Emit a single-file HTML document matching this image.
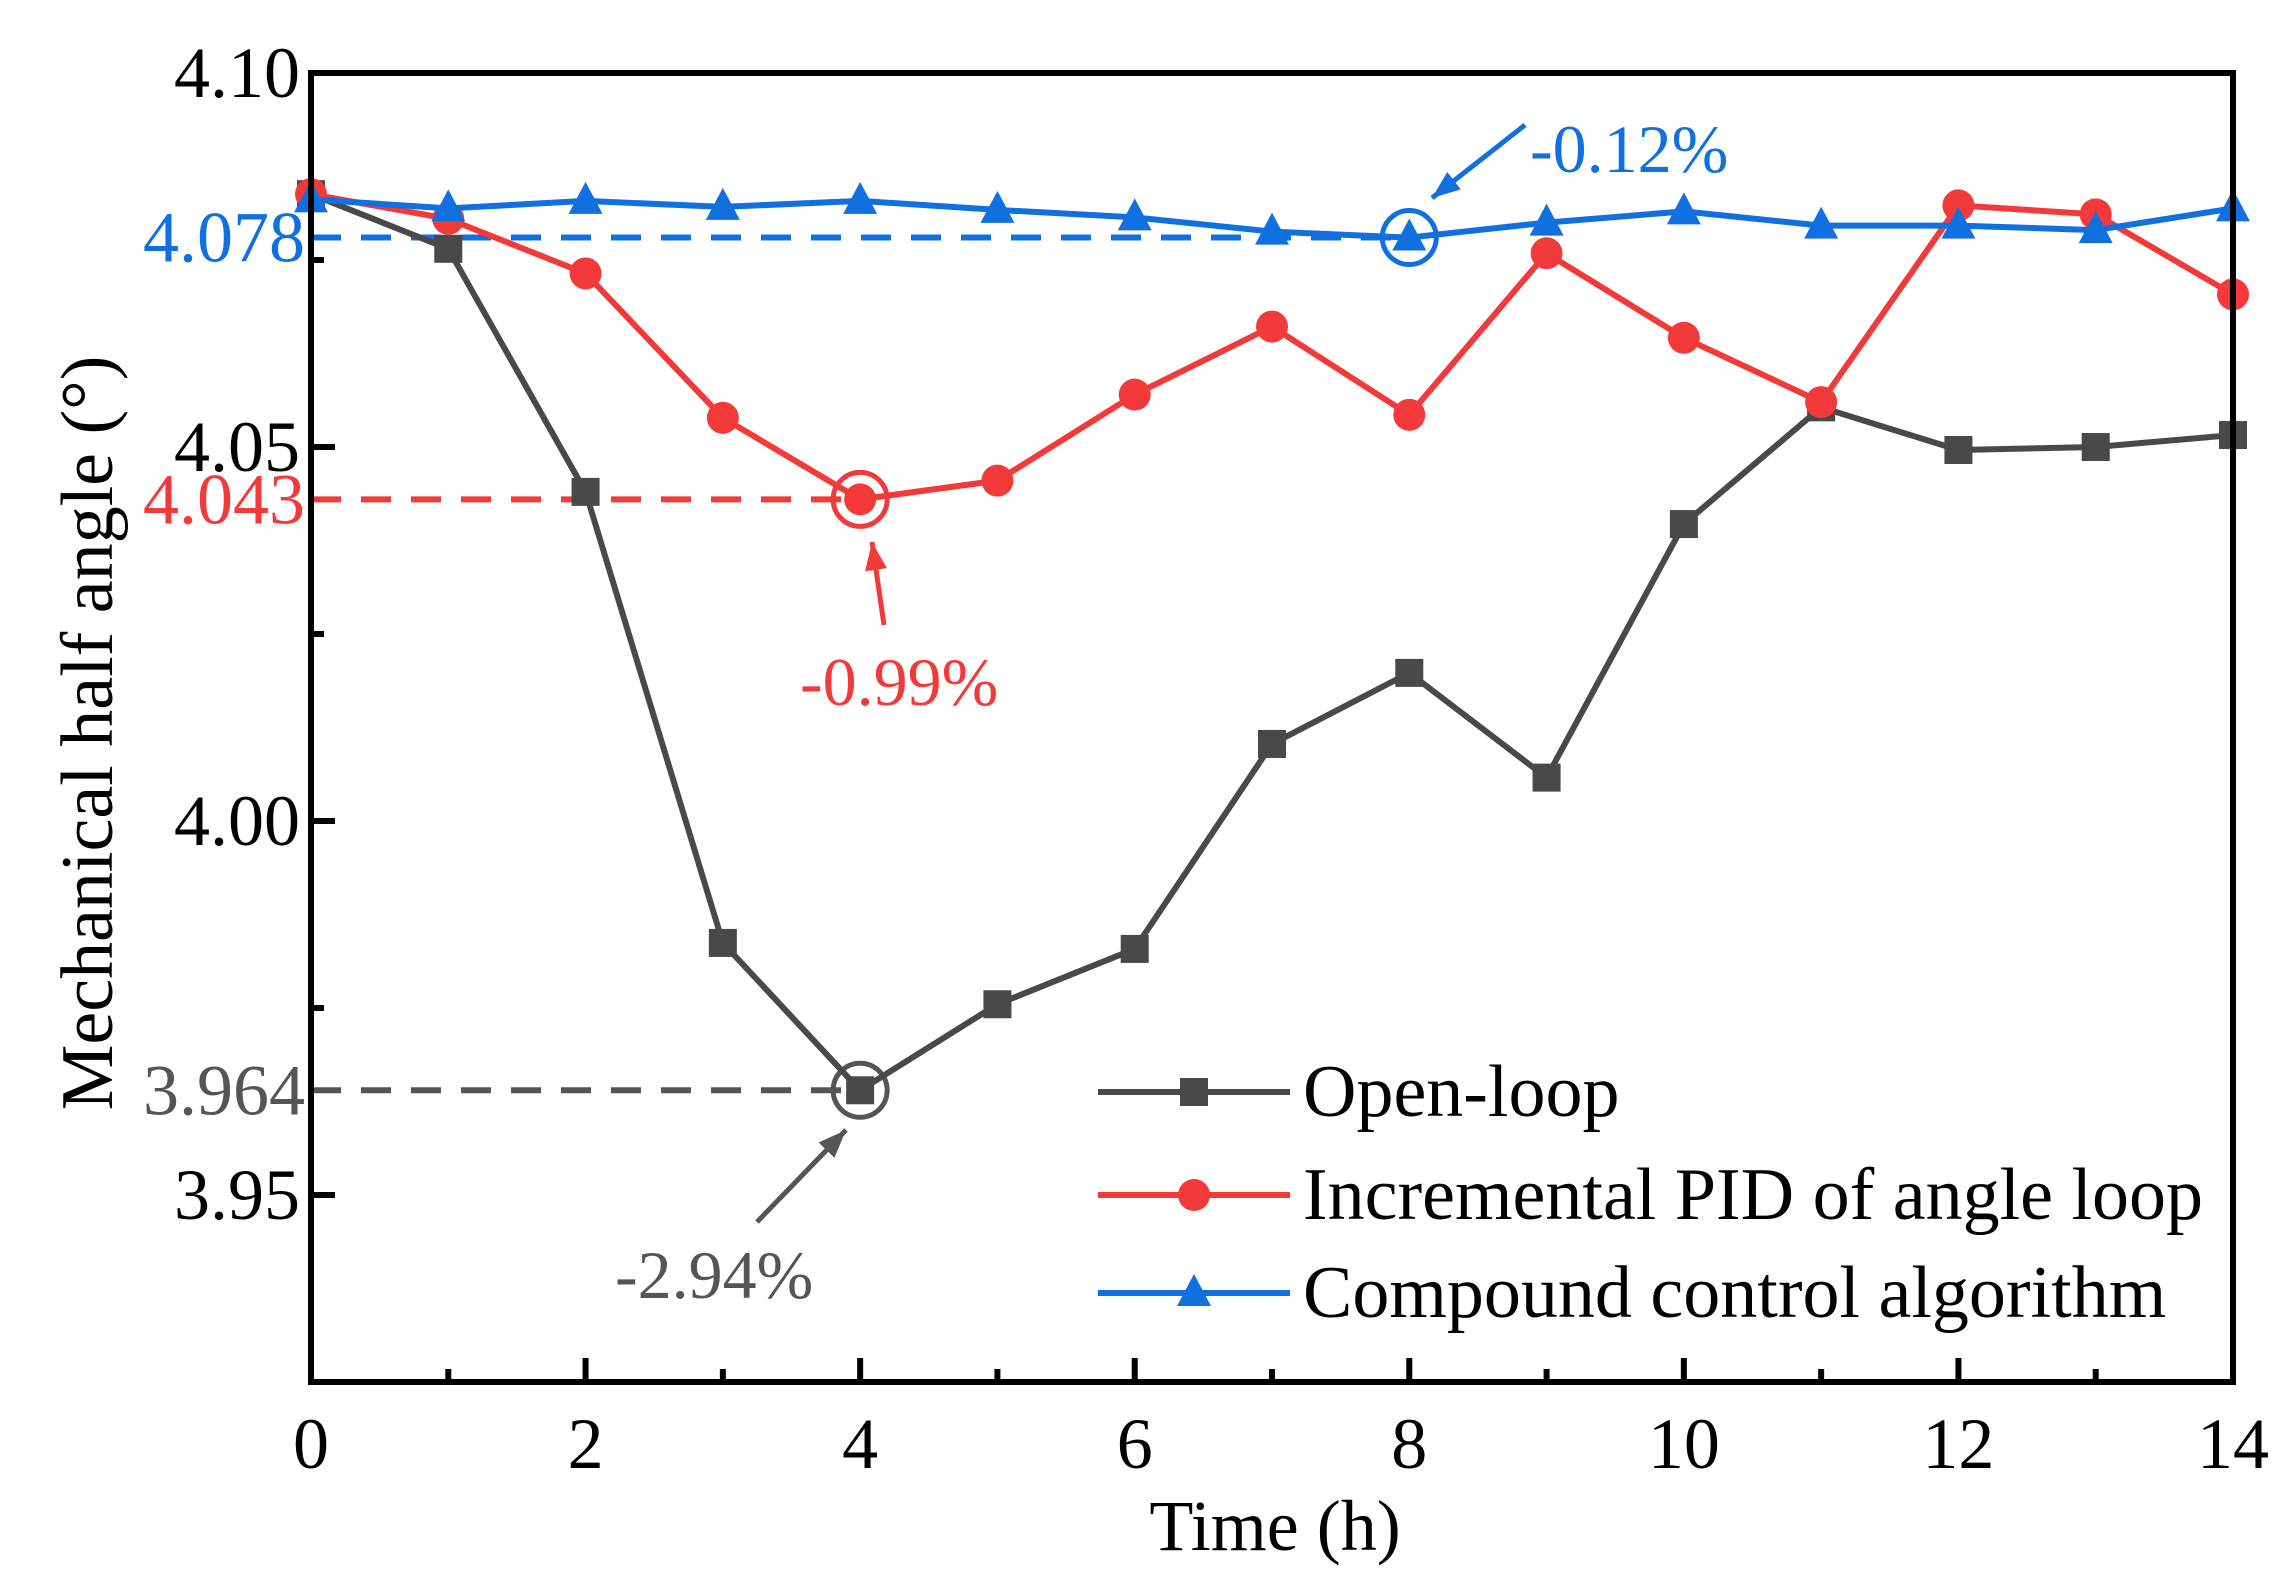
<!DOCTYPE html>
<html><head><meta charset="utf-8"><style>
html,body{margin:0;padding:0;background:#fff;}
svg{display:block;font-family:"Liberation Serif",serif;}
</style></head><body>
<svg id="chart" width="2287" height="1592" viewBox="0 0 2287 1592"></svg>
<script>
const hours=[0,1,2,3,4,5,6,7,8,9,10,11,12,13,14];
const openLoop=[4.0838,4.0765,4.044,3.9837,3.964,3.9755,3.9829,4.0103,4.0198,4.0058,4.0397,4.0553,4.0496,4.05,4.0516];
const pidLoop=[4.0838,4.0805,4.0732,4.0539,4.043,4.0455,4.057,4.0661,4.0543,4.0759,4.0646,4.056,4.0823,4.0811,4.0704];
const compound=[4.0831,4.0819,4.0829,4.0821,4.0829,4.0817,4.0807,4.0788,4.078,4.08,4.0815,4.0796,4.0796,4.079,4.0819];
const xTicks=[0,2,4,6,8,10,12,14];
const yTicks=[3.95,4.00,4.05,4.10];
const yTickLabels=["3.95","4.00","4.05","4.10"];

const L=311,R=2233,T=73,B=1382,XMIN=0,XMAX=14,YMIN=3.925,YMAX=4.10;
const sx=v=>L+(v-XMIN)/(XMAX-XMIN)*(R-L);
const sy=v=>B-(v-YMIN)/(YMAX-YMIN)*(B-T);
const svg=document.getElementById('chart');
const NS='http://www.w3.org/2000/svg';
function mk(tag,attrs,parent){const e=document.createElementNS(NS,tag);for(const k in attrs)e.setAttribute(k,attrs[k]);(parent||svg).appendChild(e);return e;}
function txt(s,x,y,size,fill,anchor,parent){const e=mk('text',{x:x,y:y,'font-size':size,fill:fill,'text-anchor':anchor||'middle'},parent);e.textContent=s;return e;}

const ticks=mk('g',{});


for(let h=0;h<=14;h++){const major=h%2===0;const len=major?24:13;
  mk('line',{x1:sx(h),x2:sx(h),y1:B,y2:B-len,stroke:'#000','stroke-width':6},ticks);}
for(let k=0;k<=7;k++){const v=3.925+k*0.025;const major=k%2===1;
  mk('line',{x1:L,x2:L+(major?24:13),y1:sy(v),y2:sy(v),stroke:'#000','stroke-width':6},ticks);}
const xl=mk('g',{});


xTicks.forEach(t=>txt(String(t),sx(t),1468,72,'#000','middle',xl));
const yl=mk('g',{});


yTicks.forEach((t,i)=>txt(yTickLabels[i],300,sy(t)+24,72,'#000','end',yl));

const refs=[[8,4.078,'#1170e0','4.078'],[4,4.043,'#f23a3a','4.043'],[4,3.964,'#555','3.964']];
refs.forEach(r=>{const g=mk('g',{});
  
  
  mk('line',{x1:L,x2:sx(r[0]),y1:sy(r[1]),y2:sy(r[1]),stroke:r[2],'stroke-width':6,'stroke-dasharray':'30 20'},g);
  txt(r[3],305,sy(r[1])+24,72,r[2],'end',g);
  mk('circle',{cx:sx(r[0]),cy:sy(r[1]),r:27,fill:'none',stroke:r[2],'stroke-width':5},g);
});

const series=[[openLoop,'#494949','square','open-loop'],[pidLoop,'#f23a3a','circle','incremental-pid'],[compound,'#1170e0','triangle','compound-control']];
function marker(kind,x,y,c,g){
  if(kind==='square')mk('rect',{x:x-14,y:y-14,width:28,height:28,fill:c},g);
  else if(kind==='circle')mk('circle',{cx:x,cy:y,r:16,fill:c},g);
  else mk('polygon',{points:`${x},${y-19} ${x-17},${y+13} ${x+17},${y+13}`,fill:c},g);
}
series.forEach(s=>{const g=mk('g',{});
  
  
  mk('polyline',{points:hours.map((h,i)=>sx(h)+','+sy(s[0][i])).join(' '),fill:'none',stroke:s[1],'stroke-width':6,'stroke-linejoin':'round'},g);
  hours.forEach((h,i)=>marker(s[2],sx(h),sy(s[0][i]),s[1],g));
});

const fr=mk('rect',{x:L,y:T,width:R-L,height:B-T,fill:'none',stroke:'#000','stroke-width':6});



function arrow(x1,y1,x2,y2,c,name,label,lx,ly){const g=mk('g',{});
  
  
  mk('line',{x1:x1,y1:y1,x2:x2,y2:y2,stroke:c,'stroke-width':5},g);
  const a=Math.atan2(y2-y1,x2-x1),l=28,w=11;
  const bx=x2-l*Math.cos(a),by=y2-l*Math.sin(a);
  mk('polygon',{points:`${x2},${y2} ${bx-w*Math.sin(a)},${by+w*Math.cos(a)} ${bx+w*Math.sin(a)},${by-w*Math.cos(a)}`,fill:c},g);
  txt(label,lx,ly,68,c,'start',g);}
arrow(1525,125,1432,198,'#1170e0','annotation-compound','-0.12%',1530,172);
arrow(884,625,872,542,'#f23a3a','annotation-pid','-0.99%',800,705);
arrow(757,1222,846,1130,'#555','annotation-open-loop','-2.94%',615,1298);

const leg=mk('g',{});


const legY=[1092,1195,1293],legN=['Open-loop','Incremental PID of angle loop','Compound control algorithm'];
series.forEach((s,i)=>{const g=mk('g',{},leg);
  
  
  mk('line',{x1:1098,x2:1290,y1:legY[i],y2:legY[i],stroke:s[1],'stroke-width':6},g);
  marker(s[2],1194,legY[i],s[1],g);
  txt(legN[i],1303,legY[i]+24,74,'#000','start',g);
});

const xt=txt('Time (h)',1275,1550,72,'#000','middle');


const yt=txt('Mechanical half angle (°)',0,0,74,'#000','middle');
yt.setAttribute('transform','translate(112,733) rotate(-90)');


</script>
</body></html>
